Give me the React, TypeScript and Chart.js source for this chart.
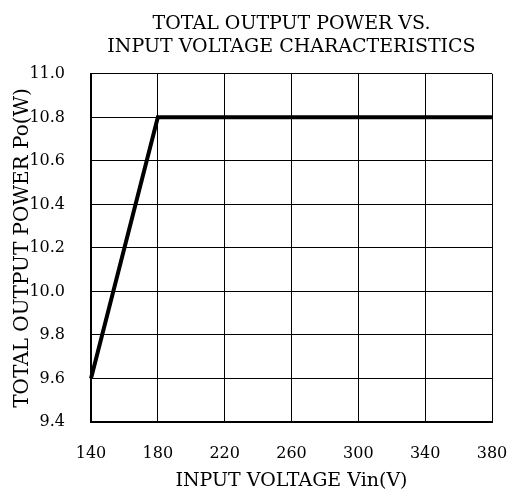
import React, { useEffect, useRef } from "react";
import { Chart, registerables } from "chart.js";

Chart.register(...registerables);

const voltages = [140, 180, 380];
const powers = [9.6, 10.8, 10.8];
const titleLines = ["TOTAL OUTPUT POWER VS.", "INPUT VOLTAGE CHARACTERISTICS"];
const xTitle = "INPUT VOLTAGE Vin(V)";
const yTitle = "TOTAL OUTPUT POWER Po(W)";

const FONT = "'DejaVu Serif', serif";

export default function App() {
  const ref = useRef<HTMLCanvasElement | null>(null);
  useEffect(() => {
    document.body.style.margin = "0";
    const ctx = ref.current!;
    const chart = new Chart(ctx, {
      type: "scatter",
      data: {
        datasets: [
          {
            data: voltages.map((v, i) => ({ x: v, y: powers[i] })),
            showLine: true,
            borderColor: "#000",
            borderWidth: 4,
            pointRadius: 0,
            fill: false,
            clip: false as any,
          },
        ],
      },
      options: {
        animation: false,
        responsive: false,
        layout: { padding: { left: 0, right: 0, top: 0, bottom: 0 } },
        plugins: {
          legend: { display: false },
          tooltip: { enabled: false },
          title: {
            display: true,
            fullSize: false,
            text: titleLines,
            color: "#000",
            font: { family: FONT, size: 19, weight: "normal", lineHeight: 1.18 },
            padding: { top: 13, bottom: 16 },
          },
        },
        scales: {
          x: {
            type: "linear",
            min: 140,
            max: 380,
            afterFit: (s: any) => {
              s.height = 69;
              s.paddingRight = 20;
              s.paddingLeft = 0;
            },
            ticks: { stepSize: 40, color: "#000", font: { family: FONT, size: 16 }, padding: 22 },
            grid: { color: "#000", lineWidth: 1, drawTicks: false },
            border: { color: "#000", width: 2 },
            title: {
              display: true,
              text: xTitle,
              color: "#000",
              font: { family: FONT, size: 19, lineHeight: 1.0 },
              padding: { top: 0, bottom: 0 },
            },
          },
          y: {
            type: "linear",
            min: 9.4,
            max: 11.0,
            afterFit: (s: any) => { s.width = 91; },
            ticks: {
              stepSize: 0.2,
              color: "#000",
              font: { family: FONT, size: 16 },
              padding: 26,
              callback: (v: any) => Number(v).toFixed(1),
            },
            grid: { color: "#000", lineWidth: 1, drawTicks: false },
            border: { color: "#000", width: 2 },
            title: {
              display: true,
              text: yTitle,
              color: "#000",
              font: { family: FONT, size: 20, lineHeight: 1.2 },
              padding: { top: 11, bottom: 0 },
            },
          },
        },
      },
    });
    return () => chart.destroy();
  }, []);
  return (
    <div style={{ position: "absolute", left: 0, top: 0, width: 512, height: 491 }}>
      <canvas ref={ref} width={512} height={491} style={{ width: 512, height: 491 }} />
    </div>
  );
}
